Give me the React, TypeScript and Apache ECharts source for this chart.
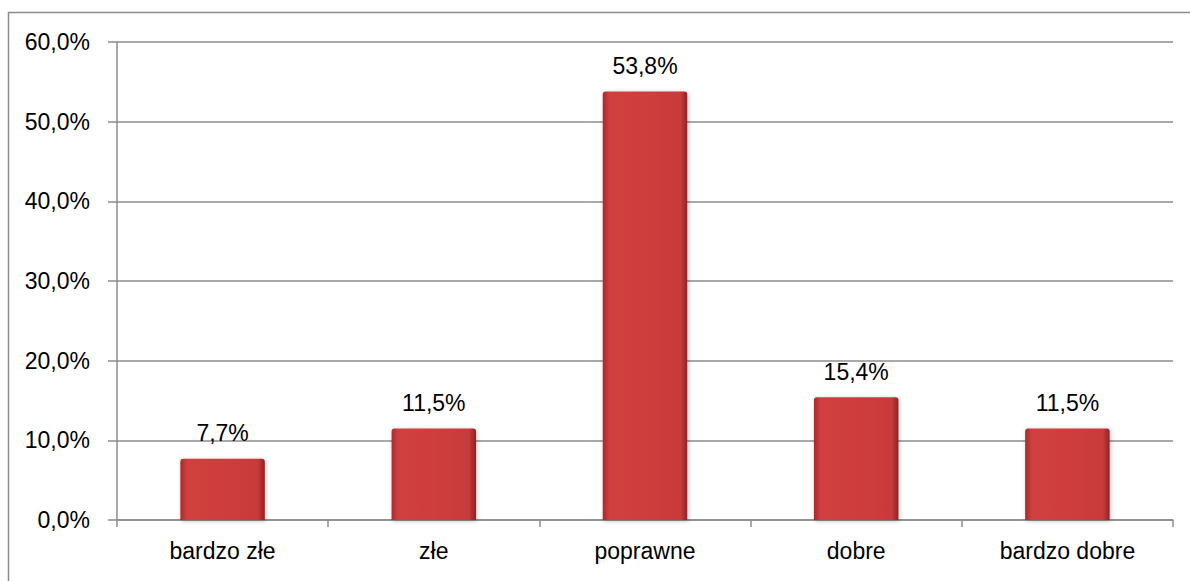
import React, { useEffect, useRef } from "react";
import * as echarts from "echarts";

const categories = ["bardzo złe", "złe", "poprawne", "dobre", "bardzo dobre"];
const values = [7.7, 11.5, 53.8, 15.4, 11.5];
const yTicks = [0, 10, 20, 30, 40, 50, 60];

const fmt = (v: number) => v.toFixed(1).replace(".", ",") + "%";
const FONT = "Liberation Sans, Arial, sans-serif";

export default function App() {
  const ref = useRef<HTMLDivElement>(null);
  useEffect(() => {
    if (!ref.current) return;
    const chart = echarts.init(ref.current, undefined, { renderer: "svg" });
    const barColor = new echarts.graphic.LinearGradient(0, 0, 1, 0, [
      { offset: 0, color: "#a82a2c" },
      { offset: 0.08, color: "#d0403f" },
      { offset: 0.5, color: "#cf3d3d" },
      { offset: 0.92, color: "#c83a3a" },
      { offset: 1, color: "#8f2224" },
    ]);
    chart.setOption({
      animation: false,
      textStyle: { fontFamily: FONT },
      graphic: [
        {
          type: "rect",
          shape: { x: 8.5, y: 12.5, width: 1200, height: 600 },
          style: { fill: "none", stroke: "#8c8c8c", lineWidth: 1.5 },
          silent: true,
        },
      ],
      grid: { left: 117, right: 17, top: 42, bottom: 61, containLabel: false },
      xAxis: {
        type: "category",
        data: categories,
        boundaryGap: true,
        axisLine: { show: true, lineStyle: { color: "#8c8c8c", width: 1.5 } },
        axisTick: { show: true, length: 7, alignWithLabel: false, lineStyle: { color: "#8c8c8c", width: 1.5 } },
        axisLabel: { color: "#000", fontSize: 23, margin: 19, fontFamily: FONT },
        splitLine: { show: false },
      },
      yAxis: {
        type: "value",
        min: yTicks[0],
        max: yTicks[yTicks.length - 1],
        interval: 10,
        axisLine: { show: true, lineStyle: { color: "#8c8c8c", width: 1.5 } },
        axisTick: { show: true, length: 9, lineStyle: { color: "#8c8c8c", width: 1.5 } },
        axisLabel: {
          color: "#000",
          fontSize: 23,
          margin: 27,
          padding: [0, 0, 4, 0],
          formatter: (v: number) => fmt(v),
          fontFamily: FONT,
        },
        splitLine: { show: true, lineStyle: { color: "#8c8c8c", width: 1.5 } },
      },
      series: [
        {
          type: "bar",
          data: values,
          barWidth: "40%",
          itemStyle: {
            color: barColor,
            borderRadius: [3, 3, 0, 0],
            shadowColor: "rgba(0,0,0,0.25)",
            shadowBlur: 4,
            shadowOffsetX: 1,
            shadowOffsetY: 1,
          },
          label: {
            show: true,
            position: "top",
            distance: 14,
            color: "#000",
            fontSize: 23,
            formatter: (p: any) => fmt(p.value),
            fontFamily: FONT,
          },
        },
      ],
    });
    return () => chart.dispose();
  }, []);
  return (
    <div
      ref={ref}
      style={{ width: 1190, height: 581, position: "absolute", left: 0, top: 0 }}
    />
  );
}
